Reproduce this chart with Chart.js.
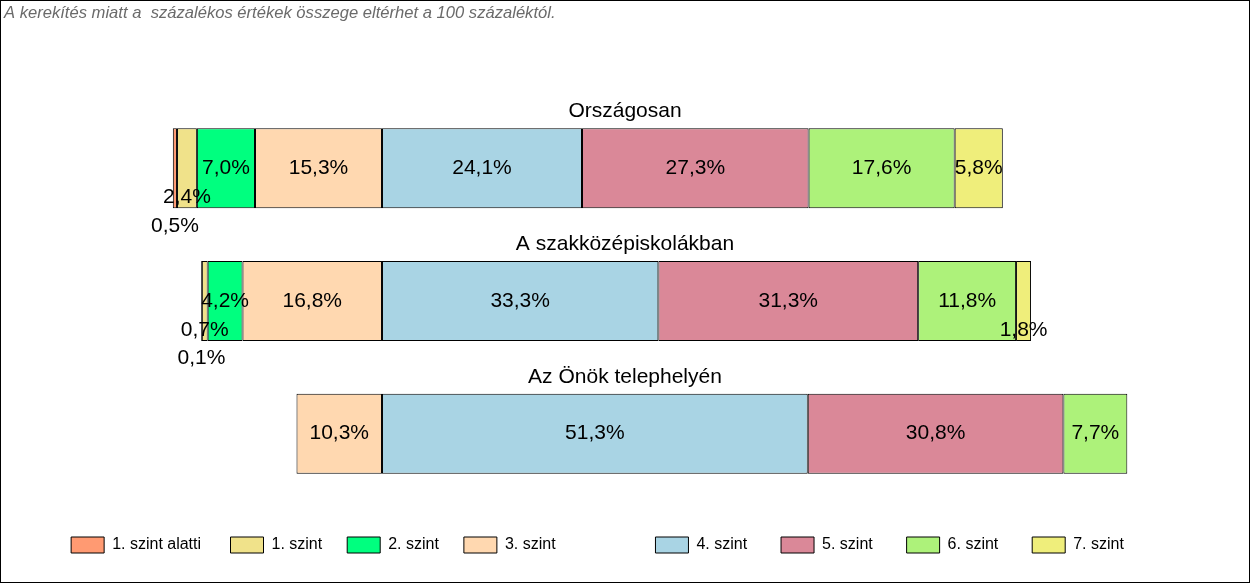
<!DOCTYPE html>
<html>
<head>
<title>Képességszintek megoszlása</title>
<script src="https://cdn.jsdelivr.net/npm/chart.js"></script>
<style>
  body { margin: 0; background: #fff; }
  #wrap { width: 1250px; height: 583px; box-sizing: border-box; border: 1px solid #000; }
  canvas { display: block; }
</style>
</head>
<body>

<div id="wrap"><canvas id="myChart" width="1248" height="581"></canvas></div>

<script>
  const kategoriak = ['Országosan', 'A szakközépiskolákban', 'Az Önök telephelyén'];
  const szintek = ['1. szint alatti', '1. szint', '2. szint', '3. szint', '4. szint', '5. szint', '6. szint', '7. szint'];
  const szinek = ['#FF9A72', '#F0E28A', '#00FF7F', '#FFD8B0', '#A9D4E4', '#DA8898', '#ADF27A', '#EFEE7B'];

  // százalékok szintenként (Országosan, szakközépiskolák, telephely)
  const szint0 = [0.5, 0.1, null];
  const szint1 = [2.4, 0.7, null];
  const szint2 = [7.0, 4.2, null];
  const szint3 = [15.3, 16.8, 10.3];
  const szint4 = [24.1, 33.3, 51.3];
  const szint5 = [27.3, 31.3, 30.8];
  const szint6 = [17.6, 11.8, 7.7];
  const szint7 = [5.8, 1.8, null];
  const ertekek = [szint0, szint1, szint2, szint3, szint4, szint5, szint6, szint7];

  const betu = '"Liberation Sans", Arial, sans-serif';
  Chart.defaults.font.family = betu;
  Chart.defaults.color = '#000';

  // a 4. szint alatti szintek balra, a 3. szint van a nullához legközelebb
  const sorrend = [3, 2, 1, 0, 4, 5, 6, 7];
  const datasets = sorrend.map(i => ({
    label: szintek[i],
    data: ertekek[i].map(v => v === null ? null : (i < 4 ? -v : v)),
    backgroundColor: szinek[i],
    borderColor: '#000',
    borderWidth: 1,
    borderSkipped: false,
    barPercentage: 0.603,
    categoryPercentage: 1
  }));

  const fmt = v => Math.abs(v).toFixed(1).replace('.', ',') + '%';

  // értékfeliratok és a sávok címei
  const savFeliratok = {
    id: 'savFeliratok',
    afterDatasetsDraw(chart) {
      const ctx = chart.ctx;
      ctx.save();
      ctx.font = '21px ' + betu;
      ctx.fillStyle = '#000';
      ctx.textAlign = 'center';
      kategoriak.forEach((kat, j) => {
        const lerakott = [];
        let savY = 0, savH = 0;
        chart.data.datasets.forEach((ds, d) => {
          const v = ds.data[j];
          const el = chart.getDatasetMeta(d).data[j];
          savY = el.y; savH = el.height;
          if (v === null) return;
          const x = (el.x + el.base) / 2;
          const w = Math.abs(el.x - el.base);
          const text = fmt(v);
          const tw = ctx.measureText(text).width;
          let szint = w < tw / 2 ? 1 : 0;
          while (lerakott.some(p => p.szint === szint && Math.abs(p.x - x) < (p.tw + tw) / 2)) szint++;
          lerakott.push({ x, tw, szint });
          ctx.textBaseline = 'middle';
          ctx.fillText(text, x, el.y + szint * el.height * 0.36);
        });
        ctx.textBaseline = 'alphabetic';
        ctx.fillText(kat, (chart.chartArea.left + chart.chartArea.right) / 2, savY - savH / 2 - 11);
      });
      ctx.restore();
    }
  };

  const ures = t => ({ text: t, fillStyle: 'rgba(0,0,0,0)', strokeStyle: 'rgba(0,0,0,0)', lineWidth: 0, hidden: false });

  const ctx = document.getElementById('myChart').getContext('2d');
  const myChart = new Chart(ctx, {
    type: 'bar',
    data: { labels: kategoriak, datasets: datasets },
    plugins: [savFeliratok],
    options: {
      indexAxis: 'y',
      responsive: false,
      animation: false,
      layout: { padding: { left: 3, right: 3, top: 0, bottom: 19 } },
      scales: {
        x: { stacked: true, display: false, min: -45.54, max: 104.1 },
        y: { stacked: true, display: false }
      },
      plugins: {
        tooltip: { enabled: false },
        title: {
          display: true,
          text: 'A kerekítés miatt a  százalékos értékek összege eltérhet a 100 százaléktól.',
          align: 'start',
          color: '#6a6a6a',
          font: { size: 16.6, style: 'italic', weight: 'normal' },
          padding: { top: 2, bottom: 79.1 }
        },
        legend: {
          position: 'bottom',
          align: 'end',
          onClick: () => {},
          title: { display: true, text: '', font: { size: 10 }, padding: 0 },
          labels: {
            boxWidth: 33,
            boxHeight: 16,
            padding: 25,
            color: '#000',
            font: { size: 16 },
            generateLabels: () => {
              const items = [];
              szintek.forEach((nev, i) => {
                if (i === 4) items.push(ures('  '));
                items.push({
                  text: i >= 4 ? nev + '  ' : (i === 0 ? nev + ' ' : nev),
                  fillStyle: szinek[i],
                  strokeStyle: '#000',
                  lineWidth: 1,
                  hidden: false
                });
              });
              items.push(ures('     '));
              return items;
            }
          }
        }
      }
    }
  });
</script>

</body>
</html>
